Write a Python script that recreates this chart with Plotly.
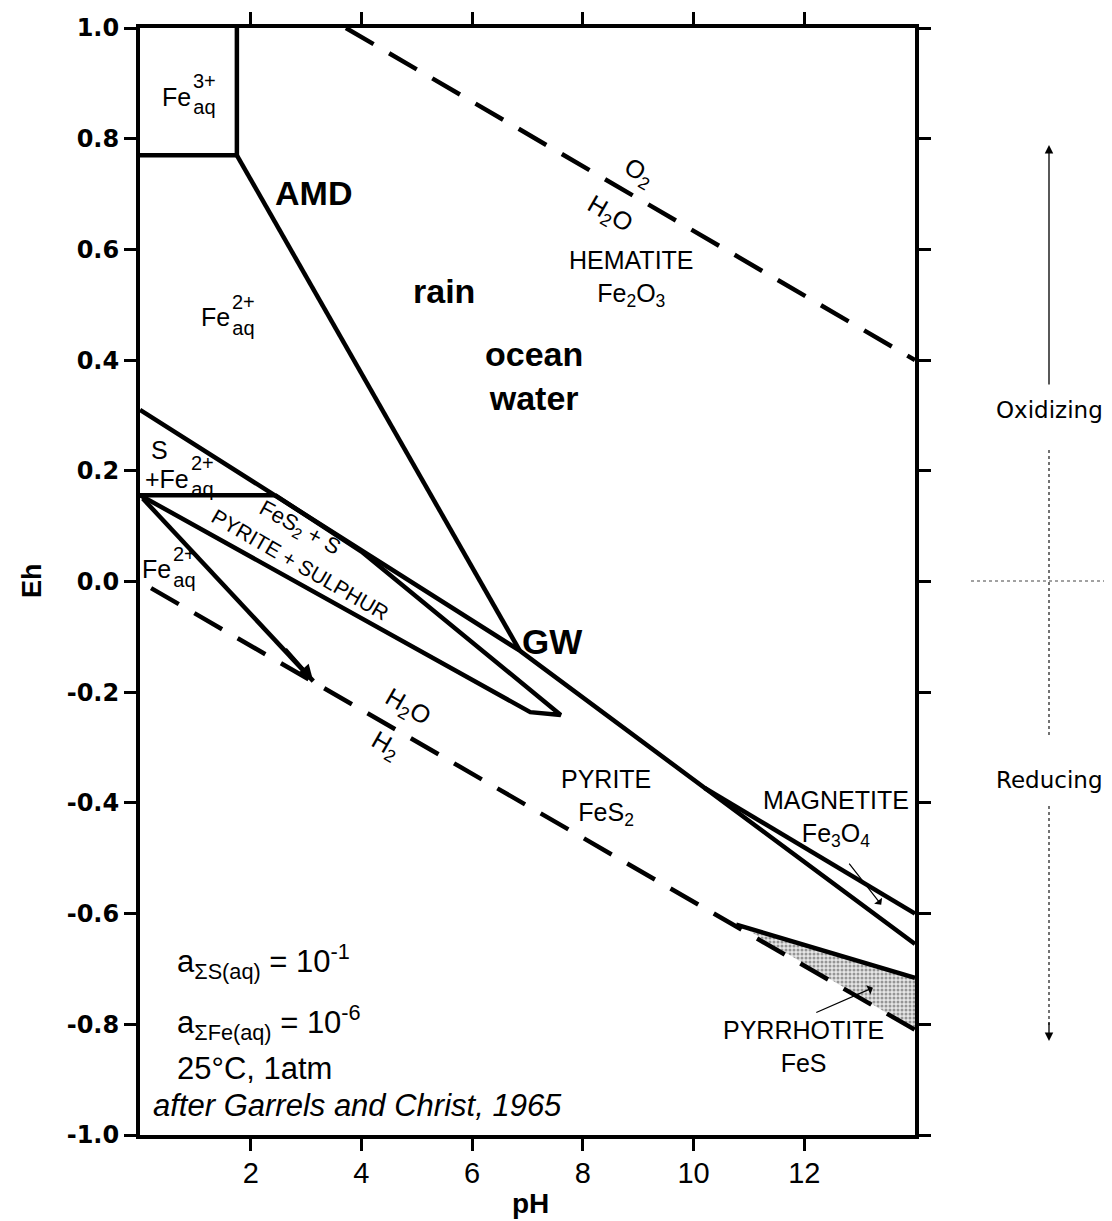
import plotly.graph_objects as go

# ---------------- data (pH, Eh) ----------------
fe3_box_ph = [1.75, 1.75, 0.0]
fe3_box_eh = [1.0, 0.77, 0.77]

amd_ph = [1.75, 6.86]
amd_eh = [0.77, -0.125]

sulfate_ph = [0.0, 6.86, 14.0]
sulfate_eh = [0.31, -0.125, -0.655]

magnetite_ph = [10.2, 14.0]
magnetite_eh = [-0.373, -0.60]

sulphur_ph = [0.0, 2.44]
sulphur_eh = [0.156, 0.156]

lens_ph = [2.44, 4.0, 7.6, 7.05, 0.0]
lens_eh = [0.156, 0.054, -0.241, -0.236, 0.156]

fe2_ph = [0.05, 3.13]
fe2_eh = [0.15, -0.18]

pyrrhotite_ph = [10.77, 14.0]
pyrrhotite_eh = [-0.62, -0.716]

pyrrhotite_fill_ph = [10.95, 14.0, 14.0, 10.95]
pyrrhotite_fill_eh = [-0.628, -0.716, -0.81, -0.628]

o2_h2o_ph = [3.72, 14.0]
o2_h2o_eh = [1.0, 0.40]

h2o_h2_ph = [0.2, 14.0]
h2o_h2_eh = [-0.012, -0.81]

x_ticks = [2, 4, 6, 8, 10, 12]
y_ticks = [1.0, 0.8, 0.6, 0.4, 0.2, 0.0, -0.2, -0.4, -0.6, -0.8, -1.0]
y_tick_labels = ["1.0", "0.8", "0.6", "0.4", "0.2", "0.0", "-0.2", "-0.4", "-0.6", "-0.8", "-1.0"]

# ---------------- figure ----------------
fig = go.Figure()
LW = 4.5
solid = dict(color="black", width=LW)

fig.add_trace(go.Scatter(x=pyrrhotite_fill_ph, y=pyrrhotite_fill_eh, mode="lines",
                         line=dict(width=0), fill="toself", fillcolor="rgba(0,0,0,0)",
                         fillpattern=dict(shape=".", fgcolor="#444444", bgcolor="#e6e6e6",
                                          size=4, solidity=0.45),
                         hoverinfo="skip"))

for xs, ys in [(fe3_box_ph, fe3_box_eh), (amd_ph, amd_eh), (sulfate_ph, sulfate_eh),
               (magnetite_ph, magnetite_eh), (sulphur_ph, sulphur_eh), (lens_ph, lens_eh),
               (fe2_ph, fe2_eh), (pyrrhotite_ph, pyrrhotite_eh)]:
    fig.add_trace(go.Scatter(x=xs, y=ys, mode="lines", line=solid, hoverinfo="skip"))

for xs, ys in [(o2_h2o_ph, o2_h2o_eh), (h2o_h2_ph, h2o_h2_eh)]:
    fig.add_trace(go.Scatter(x=xs, y=ys, mode="lines",
                             line=dict(color="black", width=LW, dash="32px,18px"),
                             hoverinfo="skip"))

FONT = "Liberation Sans, Arial, sans-serif"
ann = []

def txt(x, y, t, size=25, bold=False, angle=0, xanchor="center", italic=False):
    ann.append(dict(x=x, y=y, xref="x", yref="y", text=t, showarrow=False,
                    textangle=angle, xanchor=xanchor, yanchor="middle",
                    font=dict(family=FONT, size=size, color="black",
                              weight="bold" if bold else "normal",
                              style="italic" if italic else "normal")))

# Fe species labels (Fe + stacked charge/aq)
txt(0.96, 0.875, "Fe", 25, xanchor="right")
txt(0.92, 0.88, "3+<br>aq", 20, xanchor="left")
txt(1.66, 0.477, "Fe", 25, xanchor="right")
txt(1.62, 0.482, "2+<br>aq", 20, xanchor="left")
txt(0.36, 0.238, "S", 25)
txt(0.93, 0.186, "+Fe", 25, xanchor="right")
txt(0.89, 0.19, "2+<br>aq", 20, xanchor="left")
txt(0.60, 0.022, "Fe", 25, xanchor="right")
txt(0.56, 0.027, "2+<br>aq", 20, xanchor="left")

txt(3.14, 0.702, "AMD", 34, bold=True)
txt(5.49, 0.525, "rain", 34, bold=True)
txt(7.12, 0.372, "ocean<br>water", 34, bold=True)
txt(7.45, -0.109, "GW", 35, bold=True)

txt(9.01, 0.738, "O<sub>2</sub>", 25, angle=30)
txt(8.49, 0.662, "H<sub>2</sub>O", 25, angle=30)
txt(8.87, 0.547, "HEMATITE<br>Fe<sub>2</sub>O<sub>3</sub>", 25)

txt(2.89, 0.095, "FeS<sub>2</sub> + S", 22, angle=29)
txt(2.89, 0.030, "PYRITE + SULPHUR", 21, angle=30)

txt(4.84, -0.228, "H<sub>2</sub>O", 25, angle=30)
txt(4.43, -0.298, "H<sub>2</sub>", 25, angle=30)

txt(8.41, -0.390, "PYRITE<br>FeS<sub>2</sub>", 25)
txt(12.57, -0.429, "MAGNETITE<br>Fe<sub>3</sub>O<sub>4</sub>", 25)
txt(11.98, -0.841, "PYRRHOTITE<br>FeS", 25)

txt(0.63, -0.687, "a<sub>ΣS(aq)</sub> = 10<sup>-1</sup>", 31, xanchor="left")
txt(0.63, -0.796, "a<sub>ΣFe(aq)</sub> = 10<sup>-6</sup>", 31, xanchor="left")
txt(0.63, -0.879, "25°C, 1atm", 31, xanchor="left")
txt(0.20, -0.946, "after Garrels and Christ, 1965", 31, xanchor="left", italic=True)

# arrows inside plot
ann.append(dict(x=fe2_ph[1], y=fe2_eh[1], ax=2.6, ay=-0.12, xref="x", yref="y",
                axref="x", ayref="y", showarrow=True, arrowhead=2, arrowsize=0.8,
                arrowwidth=4, arrowcolor="black", text=""))
ann.append(dict(x=13.39, y=-0.584, ax=12.79, ay=-0.507, xref="x", yref="y",
                axref="x", ayref="y", showarrow=True, arrowhead=1, arrowsize=1.4,
                arrowwidth=1.2, arrowcolor="black", text=""))
ann.append(dict(x=13.24, y=-0.734, ax=12.19, ay=-0.78, xref="x", yref="y",
                axref="x", ayref="y", showarrow=True, arrowhead=1, arrowsize=1.4,
                arrowwidth=1.2, arrowcolor="black", text=""))

# Page-pixel helpers (plot area: left 137, top 28, 775 x 1107 on the page)
L, T, H, W = 137, 28, 1107, 775
def px(xp):
    return (xp - L) / W
def py(yp):
    return (T + H - yp) / H

# axis titles
ann.append(dict(x=px(29), y=py(581), xref="paper", yref="paper", text="Eh", showarrow=False,
                textangle=-90, xanchor="center", yanchor="middle",
                font=dict(family=FONT, size=27, weight="bold", color="black")))
ann.append(dict(x=px(527), y=py(1203), xref="paper", yref="paper", text="pH", showarrow=False,
                xanchor="center", yanchor="middle",
                font=dict(family=FONT, size=28, weight="bold", color="black")))

# Oxidizing / Reducing side indicator
ax_x = px(1046)
ann.append(dict(x=ax_x, y=py(410), xref="paper", yref="paper", text="Oxidizing",
                showarrow=False, xanchor="center", yanchor="middle",
                font=dict(family="DejaVu Sans", size=23, color="black")))
ann.append(dict(x=ax_x, y=py(780), xref="paper", yref="paper", text="Reducing",
                showarrow=False, xanchor="center", yanchor="middle",
                font=dict(family="DejaVu Sans", size=23, color="black")))
ann.append(dict(x=ax_x, y=py(145), xref="paper", yref="paper", ax=0, ay=241,
                showarrow=True, arrowhead=2, arrowsize=1.3, arrowwidth=1.3,
                arrowcolor="black", text=""))
ann.append(dict(x=ax_x, y=py(1041), xref="paper", yref="paper", ax=0, ay=-20,
                showarrow=True, arrowhead=2, arrowsize=1.3, arrowwidth=1.3,
                arrowcolor="black", text=""))

shapes = [
    dict(type="line", xref="paper", yref="paper", x0=ax_x, x1=ax_x, y0=py(450), y1=py(736),
         line=dict(color="#444444", width=1.5, dash="dot")),
    dict(type="line", xref="paper", yref="paper", x0=ax_x, x1=ax_x, y0=py(806), y1=py(1025),
         line=dict(color="#444444", width=1.5, dash="dot")),
    dict(type="line", xref="paper", yref="paper", x0=px(968), x1=px(1110), y0=py(581), y1=py(581),
         line=dict(color="#444444", width=1, dash="dot")),
]

# the page body has a small default margin, so the plot margins are reduced accordingly
fig.update_layout(
    width=1104, height=1213,
    margin=dict(l=132, r=197, t=20, b=86, autoexpand=False),
    paper_bgcolor="white", plot_bgcolor="white",
    showlegend=False,
    annotations=ann, shapes=shapes,
    xaxis=dict(range=[0, 14], tickvals=x_ticks, ticks="outside", ticklen=12, tickwidth=3,
               tickcolor="black", showline=True, linecolor="black", linewidth=4,
               mirror="ticks", showgrid=False, zeroline=False, automargin=False,
               ticklabelstandoff=-3,
               tickfont=dict(family="Liberation Sans Narrow, Liberation Sans, Arial", size=29,
                             color="black")),
    yaxis=dict(range=[-1, 1], tickvals=y_ticks, ticktext=y_tick_labels, ticks="outside",
               ticklen=12, tickwidth=3, tickcolor="black", showline=True, linecolor="black",
               linewidth=4, mirror="ticks", showgrid=False, zeroline=False, automargin=False,
               tickfont=dict(family="DejaVu Sans, Liberation Sans", size=24, weight="bold",
                             color="black")),
)

fig.write_html("out.html")
